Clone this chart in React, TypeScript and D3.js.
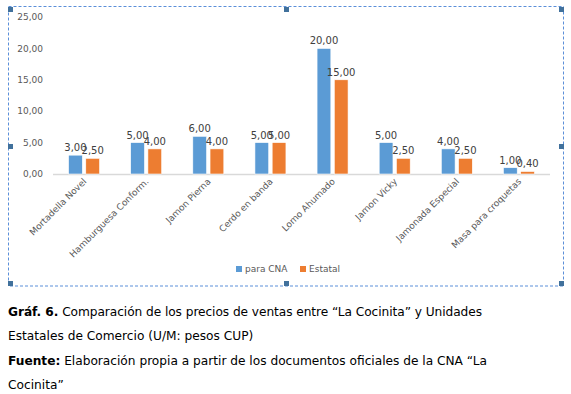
import React, { useEffect, useRef } from 'react'
import * as d3 from 'd3'

const categories = [
  'Mortadella Novel',
  'Hamburguesa Conform.',
  'Jamon Pierna',
  'Cerdo en banda',
  'Lomo Ahumado',
  'Jamon Vicky',
  'Jamonada Especial',
  'Masa para croquetas',
]
const paraCNA = [3, 5, 6, 5, 20, 5, 4, 1]
const estatal = [2.5, 4, 4, 5, 15, 2.5, 2.5, 0.4]
const yTicks = [0, 5, 10, 15, 20, 25]
const seriesNames = ['para CNA', 'Estatal']
const seriesColors = ['#5B9BD5', '#ED7D31']

const fmt = (v: number) => v.toFixed(2).replace('.', ',')

function App() {
  const svgRef = useRef<SVGSVGElement>(null)

  useEffect(() => {
    const svg = d3.select(svgRef.current)
    svg.selectAll('*').remove()

    const font = 'DejaVu Sans, Verdana, sans-serif'
    const x = d3.scaleBand().domain(categories).range([53, 550])
    const y = d3.scaleLinear().domain([0, 25]).range([174, 17])
    const groupW = 31
    const inner = d3.scaleBand().domain(seriesNames).range([0, groupW]).paddingInner(0.2)
    const innerOffset = (x.bandwidth() - groupW) / 2

    // frame
    svg.append('rect')
      .attr('x', 8.5).attr('y', 6.5).attr('width', 555).attr('height', 279.5)
      .attr('fill', 'none').attr('stroke', '#5B8FD9').attr('stroke-dasharray', '3,2')
    const hx = [8, 284, 559]
    const hy = [7, 144, 281]
    hx.forEach((hxv, i) => hy.forEach((hyv, j) => {
      if (i === 1 && j === 1) return
      svg.append('rect').attr('x', hxv).attr('y', hyv).attr('width', 5).attr('height', 5)
        .attr('fill', '#41719C')
    }))

    // y tick labels
    svg.append('g').selectAll('text').data(yTicks).join('text')
      .attr('x', 43).attr('y', d => y(d)).attr('dy', '0.35em')
      .attr('text-anchor', 'end').attr('font-family', font).attr('font-size', 9)
      .attr('fill', '#595959').text(d => fmt(d))

    // baseline
    svg.append('line')
      .attr('x1', 53).attr('x2', 550).attr('y1', y(0) + 0.5).attr('y2', y(0) + 0.5)
      .attr('stroke', '#D9D9D9').attr('stroke-width', 1.5)

    const series = [paraCNA, estatal]
    series.forEach((vals, si) => {
      const g = svg.append('g')
      const bx = (i: number) => (x(categories[i]) as number) + innerOffset + (inner(seriesNames[si]) as number)
      g.selectAll('rect').data(vals).join('rect')
        .attr('x', (_, i) => bx(i))
        .attr('y', d => y(d))
        .attr('width', inner.bandwidth())
        .attr('height', d => y(0) - y(d))
        .attr('fill', seriesColors[si])
        .attr('stroke', '#fff').attr('stroke-width', 0.6)
      g.selectAll('text').data(vals).join('text')
        .attr('x', (_, i) => bx(i) + inner.bandwidth() / 2)
        .attr('y', d => y(d) - 4)
        .attr('text-anchor', 'middle').attr('font-family', font).attr('font-size', 10)
        .attr('fill', '#404040').text(d => fmt(d))
    })

    // category labels
    svg.append('g').selectAll('text').data(categories).join('text')
      .attr('transform', d => `translate(${(x(d) as number) + x.bandwidth() / 2 + 3},182) rotate(-45)`)
      .attr('text-anchor', 'end').attr('font-family', font).attr('font-size', 9)
      .attr('fill', '#595959').text(d => d)

    // legend
    const legendX = [236, 300]
    seriesNames.forEach((name, i) => {
      svg.append('rect').attr('x', legendX[i]).attr('y', 266).attr('width', 6).attr('height', 6)
        .attr('fill', seriesColors[i])
      svg.append('text').attr('x', legendX[i] + 9).attr('y', 269).attr('dy', '0.35em')
        .attr('font-family', font).attr('font-size', 9).attr('fill', '#595959').text(name)
    })
  }, [])

  const capFont = 'DejaVu Sans, Verdana, sans-serif'
  return (
    <div>
      <svg ref={svgRef} width={571} height={394}
        style={{ position: 'absolute', left: 0, top: 0, background: '#fff' }} />
      <svg width={571} height={394} style={{ position: 'absolute', left: 0, top: 0, pointerEvents: 'none' }}>
        <g fontFamily={capFont} fontSize={12.2} fill="#000">
          <text x={8} y={316} textLength={474} lengthAdjust="spacing">
            <tspan fontWeight="bold">Gráf. 6.</tspan> Comparación de los precios de ventas entre “La Cocinita” y Unidades
          </text>
          <text x={8} y={340}>Estatales de Comercio (U/M: pesos CUP)</text>
          <text x={8} y={365} textLength={479} lengthAdjust="spacing">
            <tspan fontWeight="bold">Fuente:</tspan> Elaboración propia a partir de los documentos oficiales de la CNA “La
          </text>
          <text x={8} y={389}>Cocinita”</text>
        </g>
      </svg>
    </div>
  )
}

export default App
